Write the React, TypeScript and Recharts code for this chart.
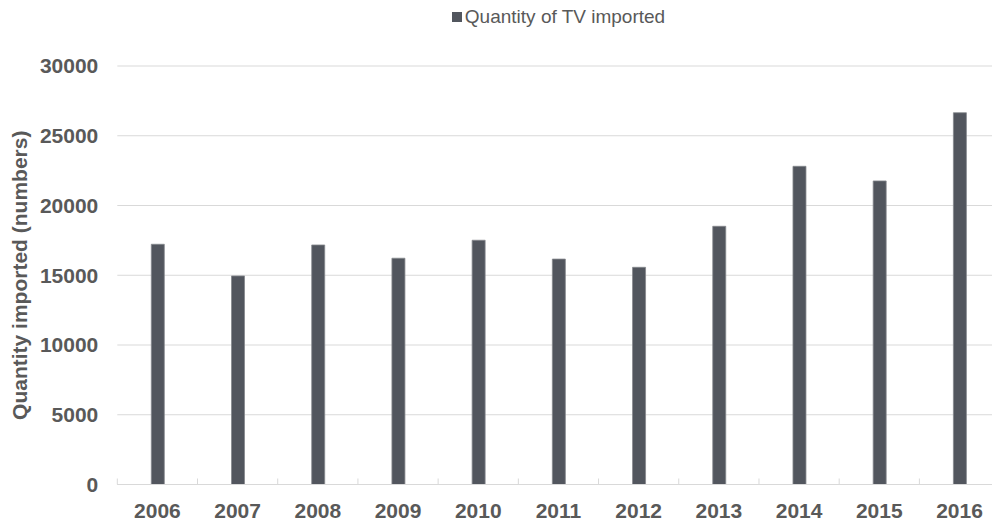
import React from 'react';
import { BarChart, Bar, XAxis, YAxis, CartesianGrid, Legend } from 'recharts';

const years = ['2006', '2007', '2008', '2009', '2010', '2011', '2012', '2013', '2014', '2015', '2016'];
const quantities = [17220, 14950, 17170, 16220, 17510, 16160, 15570, 18510, 22810, 21760, 26650];
const yTicks = [0, 5000, 10000, 15000, 20000, 25000, 30000];
const seriesName = 'Quantity of TV imported';
const yAxisTitle = 'Quantity imported (numbers)';

const data = years.map((year, i) => ({ year, value: quantities[i] }));

const FONT = '"Liberation Sans", Arial, sans-serif';
const TEXT = '#595959';
const BAR = '#52565E';
const GRID = '#D9D9D9';

const XTick = (props: any) => {
  const { x, y, payload } = props;
  const off = payload && typeof payload.offset === 'number' ? payload.offset : 40;
  return (
    <g>
      <line x1={x - off} x2={x - off} y1={y - 6} y2={y} stroke={GRID} strokeWidth={1} />
      <text
        x={x}
        y={y + 33}
        textAnchor="middle"
        fontFamily={FONT}
        fontSize={21}
        fontWeight="bold"
        fill={TEXT}
      >
        {payload.value}
      </text>
    </g>
  );
};

const YTitle = (props: any) => {
  const vb = props.viewBox || {};
  const cy = (vb.y || 0) + (vb.height || 0) / 2;
  const cx = 19;
  return (
    <text
      x={cx}
      y={cy}
      transform={`rotate(-90, ${cx}, ${cy})`}
      textAnchor="middle"
      dominantBaseline="central"
      fontFamily={FONT}
      fontSize={21}
      fontWeight="bold"
      fill={TEXT}
    >
      {yAxisTitle}
    </text>
  );
};

const LegendContent = () => (
  <div
    style={{
      display: 'flex',
      justifyContent: 'center',
      alignItems: 'center',
      height: 34,
      fontFamily: FONT,
      fontSize: 19,
      color: TEXT,
    }}
  >
    <span style={{ display: 'inline-block', width: 10, height: 10, background: BAR, marginRight: 3 }} />
    <span>{seriesName}</span>
  </div>
);

export default function App() {
  return (
    <div
      style={{
        position: 'absolute',
        left: 0,
        top: 0,
        width: 992,
        height: 520,
        overflow: 'hidden',
        background: '#ffffff',
      }}
    >
      <BarChart
        width={1002}
        height={520}
        data={data}
        margin={{ top: 32, right: 2.4, bottom: 0, left: 0 }}
      >
        <CartesianGrid vertical={false} stroke={GRID} strokeWidth={1} />
        <Legend
          verticalAlign="top"
          align="center"
          wrapperStyle={{ top: 0, left: 117, width: 883, height: 34 }}
          content={LegendContent}
        />
        <XAxis
          dataKey="year"
          height={35.5}
          axisLine={{ stroke: GRID, strokeWidth: 1 }}
          tickLine={false}
          tickSize={0}
          tickMargin={0}
          tick={XTick}
          interval={0}
        />
        <YAxis
          width={117.3}
          domain={[0, 30000]}
          ticks={yTicks}
          axisLine={false}
          tickLine={false}
          tickSize={0}
          tickMargin={19}
          tick={{ fontFamily: FONT, fontSize: 21, fontWeight: 'bold', fill: TEXT }}
          label={<YTitle />}
        />
        <Bar
          dataKey="value"
          name={seriesName}
          fill={BAR}
          stroke="#85888D"
          strokeWidth={0.8}
          barSize={13}
          isAnimationActive={false}
        />
      </BarChart>
    </div>
  );
}
